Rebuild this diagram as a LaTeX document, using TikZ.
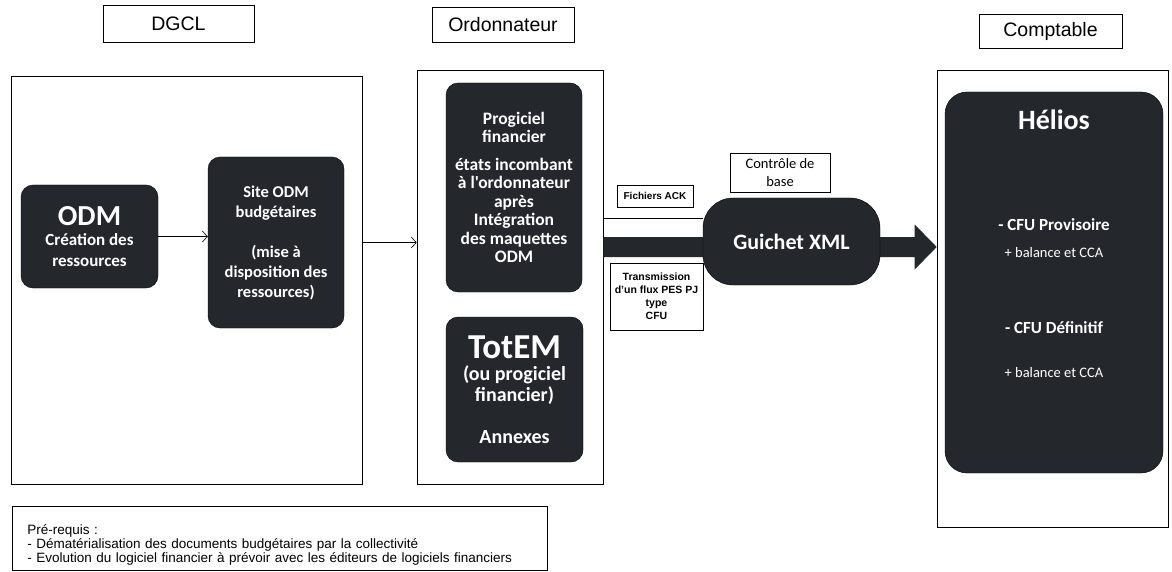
\documentclass[tikz,border=0pt]{standalone}
\usepackage{fontspec}
\setmainfont{Liberation Sans}
\newfontfamily\calibri{Carlito}
\usepackage{tikz}
\usetikzlibrary{arrows.meta, positioning}

\definecolor{boxdark}{HTML}{24282C}

\begin{document}
\begin{tikzpicture}[
    x=1pt, y=-1pt,
    header/.style={rectangle, draw, thick, inner sep=0pt, font=\fontsize{19.5}{22}\selectfont},
    frame/.style={rectangle, draw, semithick, inner sep=0pt},
    darkbox/.style={rectangle, fill=boxdark, draw=black, rounded corners=12pt, text=white, align=center, inner sep=1pt},
    tag/.style={rectangle, draw, semithick, align=center, inner sep=1pt},
    whitetext/.style={text=white, inner sep=0pt},
    arrow/.style={-{Straight Barb[length=5pt, width=11pt]}, semithick}
]
\useasboundingbox (0,0) rectangle (1172,572);

% column headers
\node (dgcl) [header, minimum width=151pt, minimum height=37pt] at (178.5,23.5) {DGCL};
\node (ordo) [header, minimum width=142pt, minimum height=35pt] at (503,24.5) {Ordonnateur};
\node (compta) [header, minimum width=143pt, minimum height=34pt] at (1050.5,31) {Comptable};

% frames
\node (dgclframe) [frame, minimum width=351pt, minimum height=408pt] at (186.5,280) {};
\node (ordoframe) [frame, minimum width=186pt, minimum height=414pt] at (510,277) {};
\node (comptaframe) [frame, minimum width=231pt, minimum height=457pt] at (1052.5,298.5) {};

% DGCL
\node (odm) [darkbox, minimum width=137pt, minimum height=103pt, font=\calibri\bfseries\fontsize{17}{20.5}\selectfont] at (89.5,236.5)
    {\fontsize{29}{28}\selectfont ODM\\ Création des\\ ressources};
\node (site) [darkbox, minimum width=136pt, minimum height=171pt, font=\calibri\bfseries\fontsize{16.5}{20}\selectfont] at (276,242.5)
    {Site ODM\\ budgétaires\\[20pt] (mise à\\ disposition des\\ ressources)};

% Ordonnateur
\node (progiciel) [darkbox, minimum width=136pt, minimum height=209pt, font=\calibri\bfseries\fontsize{17.5}{18.5}\selectfont] at (514,187.5)
    {Progiciel\\ financier\\[9pt] états incombant\\ à l'ordonnateur\\ après\\ Intégration\\ des maquettes\\ ODM};
\node (totem) [darkbox, minimum width=137pt, minimum height=145pt, font=\calibri\bfseries\fontsize{20}{21.5}\selectfont] at (514.5,389.5)
    {\fontsize{35}{30}\selectfont TotEM\\ (ou progiciel\\ financier)\\[20pt] Annexes};

% flux vers le comptable
\coordinate (flowstart) at (ordoframe.east |- 0,247);
\coordinate (flowend) at (comptaframe.west |- 0,247);
\fill[boxdark] ([yshift=10pt]flowstart) -- ([xshift=-22pt, yshift=10pt]flowend)
    -- ([xshift=-22pt, yshift=22.5pt]flowend) -- (flowend)
    -- ([xshift=-22pt, yshift=-22.5pt]flowend) -- ([xshift=-22pt, yshift=-10pt]flowend)
    -- ([yshift=-10pt]flowstart) -- cycle;
\node (guichet) [darkbox, rounded corners=30pt, minimum width=177pt, minimum height=87pt, font=\calibri\bfseries\fontsize{22}{24}\selectfont] at (791.5,241.5)
    {Guichet XML};

\node (fichiers) [tag, minimum width=76pt, minimum height=22pt, font=\bfseries\fontsize{10}{12}\selectfont] at (655,196) {Fichiers ACK};
\node (controle) [tag, minimum width=100pt, minimum height=39pt, font=\calibri\fontsize{14.5}{17.5}\selectfont] at (780,172.5) {Contrôle de\\ base};
\node (transmission) [tag, minimum width=93pt, minimum height=67pt, font=\bfseries\fontsize{10.5}{13}\selectfont] at (656.5,296.5)
    {Transmission\\ d'un flux PES PJ\\ type\\ CFU};

\coordinate (ackline) at (0,218);
\draw[semithick] (ordoframe.east |- ackline) -- (guichet.west |- ackline);

% Comptable
\node (helios) [darkbox, rounded corners=22pt, minimum width=218pt, minimum height=381pt] at (1054,282.5) {};
\node (heliostitle) [whitetext, font=\calibri\bfseries\fontsize{28}{30}\selectfont] at (helios.north |- 0,120) {Hélios};
\node (cfuprov) [whitetext, font=\calibri\bfseries\fontsize{17}{20}\selectfont] at (helios.north |- 0,225) {- CFU Provisoire};
\node (balprov) [whitetext, font=\calibri\fontsize{14.5}{17}\selectfont] at (helios.north |- 0,253) {+ balance et CCA};
\node (cfudef) [whitetext, font=\calibri\bfseries\fontsize{17}{20}\selectfont] at (helios.north |- 0,328) {- CFU Définitif};
\node (baldef) [whitetext, font=\calibri\fontsize{14.5}{17}\selectfont] at (helios.north |- 0,373) {+ balance et CCA};

% liaisons
\draw [arrow] (odm.east) -- (odm.east -| site.west);
\draw [arrow] (dgclframe.east |- site.center) -- (ordoframe.west |- site.center);

% prerequis
\node (prereq) [tag, align=left, anchor=north west, minimum width=535pt, minimum height=64pt, text width=505pt, font=\fontsize{13.5}{14}\selectfont] at (12,506)
    {\rule{0pt}{24pt}Pré-requis :\\
     - Dématérialisation des documents budgétaires par la collectivité\\
     - Evolution du logiciel financier à prévoir avec les éditeurs de logiciels financiers};

\end{tikzpicture}
\end{document}
